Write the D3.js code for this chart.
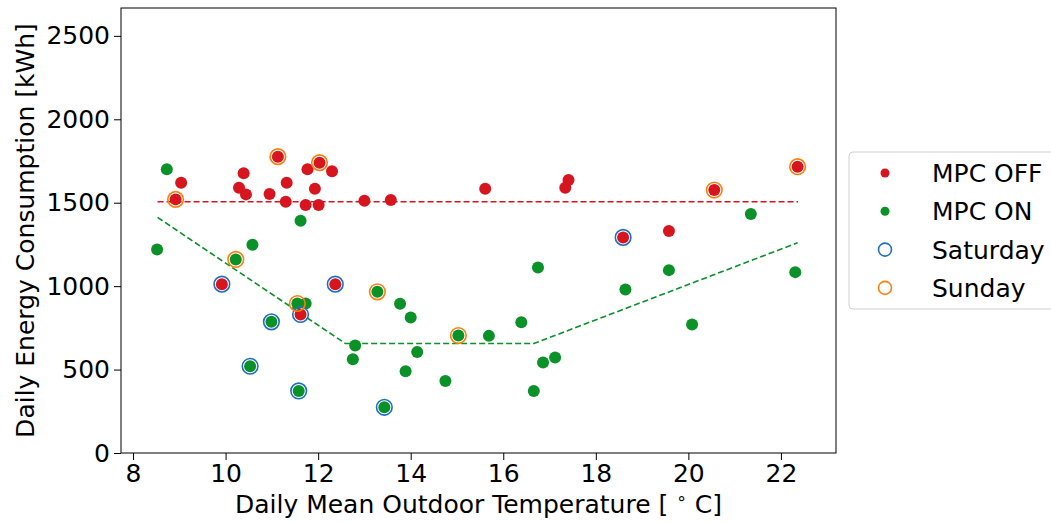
<!DOCTYPE html>
<html>
<head>
<meta charset="UTF-8">
<script src="https://d3js.org/d3.v7.min.js"></script>
<style>
  body { margin: 0; background: #fff; }
  text { font-family: "DejaVu Sans", sans-serif; fill: #000; }
</style>
</head>
<body>
<div id="chart"></div>
<script>
// data (temperature in °C, energy in kWh)
const offTemp = [9.04, 8.92, 10.39, 10.29, 10.44, 10.95, 11.13, 11.32, 11.30, 11.77, 12.03, 12.30, 11.93, 11.73, 12.01, 13.00, 13.57, 15.61, 17.41, 17.34, 18.59, 19.58, 20.56, 22.36, 9.92, 12.37, 11.62];
const offEnergy = [1620, 1520, 1677, 1590, 1550, 1552, 1776, 1620, 1506, 1700, 1740, 1688, 1584, 1486, 1486, 1512, 1516, 1584, 1636, 1590, 1292, 1330, 1576, 1716, 1012, 1012, 830];

const onTemp = [8.73, 8.52, 10.58, 10.22, 11.62, 13.28, 13.77, 11.55, 11.73, 10.99, 10.53, 11.58, 13.43, 12.80, 12.75, 14.00, 15.03, 15.69, 16.39, 16.75, 18.64, 14.14, 13.89, 14.75, 16.86, 17.12, 16.66, 21.35, 19.58, 22.31, 20.08];
const onEnergy = [1700, 1220, 1248, 1160, 1392, 966, 894, 896, 896, 786, 520, 372, 274, 644, 562, 812, 704, 702, 784, 1112, 980, 606, 490, 432, 542, 572, 372, 1432, 1096, 1084, 770];

const satTemp = [9.92, 12.37, 11.62, 18.59, 10.99, 10.53, 11.58, 13.43];
const satEnergy = [1012, 1012, 830, 1292, 786, 520, 372, 274];

const sunTemp = [8.92, 11.13, 12.03, 20.56, 22.36, 10.22, 11.55, 13.28, 15.03];
const sunEnergy = [1520, 1776, 1740, 1576, 1716, 1160, 896, 966, 704];

// fitted lines
const offLineTemp = [8.53, 22.37];
const offLineEnergy = [1506, 1506];
const onLineTemp = [8.53, 12.59, 16.66, 22.36];
const onLineEnergy = [1412, 656, 656, 1260];

const xTicks = [8, 10, 12, 14, 16, 18, 20, 22];
const yTicks = [0, 500, 1000, 1500, 2000, 2500];
const legendLabels = ["MPC OFF", "MPC ON", "Saturday", "Sunday"];

// set up
const margin = { top: 8, right: 215, bottom: 71, left: 121 };
const width = 1051 - margin.left - margin.right;
const height = 524 - margin.top - margin.bottom;

const red = "#d7151f", green = "#0a9128", blue = "#1f6fc0", orange = "#ff7f0e";

const svg = d3.select("#chart").append("svg")
    .attr("width", 1051)
    .attr("height", 524);

const g = svg.append("g")
    .attr("transform", `translate(${margin.left},${margin.top})`);

// scales
const x = d3.scaleLinear().domain([7.74, 23.19]).range([0, width]);
const y = d3.scaleLinear().domain([0, 2667]).range([height, 0]);

// axes
const xAxis = d3.axisBottom(x).tickValues(xTicks).tickFormat(d3.format("d")).tickSize(7).tickPadding(4);
const yAxis = d3.axisLeft(y).tickValues(yTicks).tickFormat(d3.format("d")).tickSize(7).tickPadding(4);

g.append("g")
    .attr("transform", `translate(0,${height})`)
    .call(xAxis)
    .call(a => a.select(".domain").remove())
    .call(a => a.selectAll("text").attr("font-size", 25).attr("font-family", "DejaVu Sans"));

g.append("g")
    .call(yAxis)
    .call(a => a.select(".domain").remove())
    .call(a => a.selectAll("text").attr("font-size", 25).attr("font-family", "DejaVu Sans"));

g.selectAll(".tick line").attr("stroke", "#000").attr("stroke-width", 1);

// frame
g.append("rect")
    .attr("width", width).attr("height", height)
    .attr("fill", "none").attr("stroke", "#000").attr("stroke-width", 1);

// lines
const line = d3.line().x(d => x(d[0])).y(d => y(d[1]));
g.append("path")
    .datum(d3.zip(offLineTemp, offLineEnergy))
    .attr("d", line).attr("fill", "none")
    .attr("stroke", red).attr("stroke-width", 1.6).attr("stroke-dasharray", "6,3");
g.append("path")
    .datum(d3.zip(onLineTemp, onLineEnergy))
    .attr("d", line).attr("fill", "none")
    .attr("stroke", green).attr("stroke-width", 1.6).attr("stroke-dasharray", "6,3");

// points
g.append("g").selectAll("circle")
    .data(d3.zip(offTemp, offEnergy))
    .join("circle")
    .attr("cx", d => x(d[0])).attr("cy", d => y(d[1]))
    .attr("r", 6).attr("fill", red);

g.append("g").selectAll("circle")
    .data(d3.zip(onTemp, onEnergy))
    .join("circle")
    .attr("cx", d => x(d[0])).attr("cy", d => y(d[1]))
    .attr("r", 6).attr("fill", green);

g.append("g").selectAll("circle")
    .data(d3.zip(satTemp, satEnergy))
    .join("circle")
    .attr("cx", d => x(d[0])).attr("cy", d => y(d[1]))
    .attr("r", 7.8).attr("fill", "none").attr("stroke", blue).attr("stroke-width", 1.6);

g.append("g").selectAll("circle")
    .data(d3.zip(sunTemp, sunEnergy))
    .join("circle")
    .attr("cx", d => x(d[0])).attr("cy", d => y(d[1]))
    .attr("r", 7.8).attr("fill", "none").attr("stroke", orange).attr("stroke-width", 1.6);

// axis labels
const xl = svg.append("text")
    .attr("x", margin.left + width / 2)
    .attr("y", 513)
    .attr("text-anchor", "middle")
    .attr("font-size", 25);
xl.append("tspan").text("Daily Mean Outdoor Temperature [ ");
xl.append("tspan").attr("font-size", 17).attr("dy", -9).text("\u2218");
xl.append("tspan").attr("dy", 9).text(" C]");

svg.append("text")
    .attr("transform", `translate(34,${margin.top + height / 2}) rotate(-90)`)
    .attr("text-anchor", "middle")
    .attr("font-size", 25)
    .text("Daily Energy Consumption [kWh]");

// legend
const legend = svg.append("g").attr("transform", "translate(849,152)");
legend.append("rect")
    .attr("width", 215).attr("height", 157).attr("rx", 4)
    .attr("fill", "#fff").attr("stroke", "#d0d0d0").attr("stroke-width", 1);

legendLabels.forEach((lab, i) => {
  const ly = 21 + i * 38.3;
  const c = legend.append("circle").attr("cx", 36).attr("cy", ly);
  if (i === 0) c.attr("r", 4.5).attr("fill", red);
  else if (i === 1) c.attr("r", 4.5).attr("fill", green);
  else c.attr("r", 6.5).attr("fill", "none").attr("stroke", i === 2 ? blue : orange).attr("stroke-width", 1.6);
  legend.append("text")
    .attr("x", 83).attr("y", ly + 9)
    .attr("font-size", 25)
    .text(lab);
});
</script>
</body>
</html>
